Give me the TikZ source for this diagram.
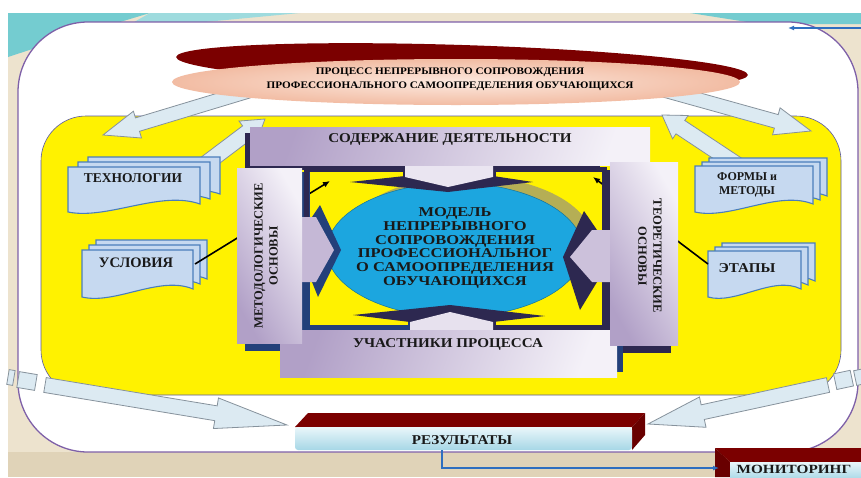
\documentclass[tikz,border=0pt]{standalone}
\usepackage{fontspec}
\setmainfont{Liberation Serif}
\newfontfamily\fa[FakeStretch=1.12]{Liberation Serif}
\newfontfamily\fb[FakeStretch=1.22]{Liberation Serif}
\usetikzlibrary{arrows.meta}
\definecolor{bgbeige}{HTML}{EDE3CE}
\definecolor{bgtan}{HTML}{E0D3B8}
\definecolor{bgteal}{HTML}{74CCD0}
\definecolor{boxborder}{HTML}{7E60A8}
\definecolor{docfill}{HTML}{C6D9F0}
\definecolor{docdraw}{HTML}{4A7EBB}
\definecolor{arrfill}{HTML}{DCEAF2}
\definecolor{arrdraw}{HTML}{86929C}
\definecolor{lavD}{HTML}{B1A0C7}
\definecolor{lavL}{HTML}{F4F1F8}
\definecolor{navy}{HTML}{2D2850}
\definecolor{bnavy}{HTML}{23407A}
\definecolor{ellblue}{HTML}{1CA6DF}
\definecolor{khaki}{HTML}{B5AE55}
\definecolor{dred}{HTML}{7B0000}
\definecolor{pinkc}{HTML}{FCE9DF}
\definecolor{pinke}{HTML}{F2BCA3}
\definecolor{cyanL}{HTML}{EAF6FA}
\definecolor{cyanD}{HTML}{A6D7E6}
\definecolor{linkblue}{HTML}{2E6FC0}
\tikzset{
  docst/.style={fill=docfill,draw=docdraw,line width=1.1pt},
  barrow/.style={fill=arrfill,draw=arrdraw,line width=0.8pt},
  barh/.style={left color=lavD,right color=lavL,shading angle=70},
  barv/.style={left color=lavD,right color=lavL,shading angle=120},
  frameline/.style={draw=navy,line width=5pt},
  lbl/.style={font=\bfseries\fontsize{13.5}{14}\selectfont,text=black!90,inner sep=0pt,align=center},
  blink/.style={draw=black,line width=1.6pt,-{Latex[length=7pt,width=6pt]}},
}
\newcommand\blockarr[7]{%
  \pgfmathsetmacro\bdx{#3-#1}\pgfmathsetmacro\bdy{#4-#2}%
  \pgfmathsetmacro\blen{veclen(\bdx,\bdy)}%
  \pgfmathsetmacro\bang{atan2(-\bdy,\bdx)}%
  \pgfmathsetmacro\bneck{\blen-#7}%
  \begin{scope}[shift={(#1,#2)},rotate=\bang]
    \draw[barrow] (0,-#5) -- (\bneck,-#5) -- (\bneck,-#6) -- (\blen,0) -- (\bneck,#6) -- (\bneck,#5) -- (0,#5) -- cycle;
  \end{scope}}
\newcommand\docsheet[4]{%
  \pgfmathsetmacro\dxa{#1}\pgfmathsetmacro\dya{#2}%
  \pgfmathsetmacro\dxb{#1+#3}\pgfmathsetmacro\dyb{#2+#4}%
  \pgfmathsetmacro\dxm{#1+0.3*#3}\pgfmathsetmacro\dxn{#1+0.7*#3}%
  \draw[docst] (\dxa,\dya) -- (\dxb,\dya) -- (\dxb,\dyb-8) .. controls (\dxn,\dyb-22) and (\dxm,\dyb+8) .. (\dxa,\dyb) -- cycle;}
\newcommand\docstack[6]{% x y w h dx dy
  \docsheet{#1+2*#5}{#2+2*#6}{#3}{#4}%
  \docsheet{#1+#5}{#2+#6}{#3}{#4}%
  \docsheet{#1}{#2}{#3}{#4}}
\begin{document}
\begin{tikzpicture}[x=1pt,y=-1pt]
\useasboundingbox (0,0) rectangle (861,477);
% background
\fill[white] (0,0) rectangle (861,477);
\fill[bgbeige] (8,13) rectangle (861,477);
\fill[bgteal] (8,13) -- (150,13) -- (60,40) -- (8,57) -- cycle;
\fill[bgteal!70!white] (150,13) -- (300,13) -- (120,30) -- cycle;
\fill[bgteal] (690,13) -- (861,13) -- (861,24) -- (760,24) -- cycle;
\fill[bgtan] (8,452) rectangle (861,477);
% white frame
\draw[boxborder,line width=1.3pt,fill=white,rounded corners=70] (18,22) rectangle (858,452);
\coordinate (tra) at (861,28);
\coordinate (trb) at (788,28);
\draw[linkblue,line width=1.3pt,-{Latex[length=6pt,width=5pt]}] (tra) -- (trb);
% yellow field
\draw[fill=yellow,draw=gray!70!blue,line width=0.6pt,rounded corners=45] (41,116) rectangle (841,395);
% block arrows from ellipse
\blockarr{272}{84}{103}{135}{7}{14}{36}
\blockarr{642}{84}{811}{131}{7}{14}{36}
% block arrows up to the centre
\blockarr{200}{168}{265}{119}{8}{14}{22}
\blockarr{742}{168}{662}{115}{8}{14}{22}
% top ellipse
\fill[dred,rotate around={-1.8:(462,66)}] (462,66) ellipse [x radius=286, y radius=21];
\path[inner color=pinkc,outer color=pinke] (456,82) ellipse [x radius=284, y radius=23];
\node[font=\fa\bfseries\fontsize{10}{14}\selectfont,align=center,inner sep=0pt] (proc) at (450,79) {ПРОЦЕСС НЕПРЕРЫВНОГО СОПРОВОЖДЕНИЯ\\ПРОФЕССИОНАЛЬНОГО САМООПРЕДЕЛЕНИЯ ОБУЧАЮЩИХСЯ};
% document stacks
\docstack{68}{167}{132}{45}{10}{-5}
\node[lbl] (tech) at (133,178) {ТЕХНОЛОГИИ};
\docstack{82}{250}{111}{47}{7}{-5}
\node[lbl,font=\bfseries\fontsize{14.5}{15}\selectfont] (usl) at (136,263) {УСЛОВИЯ};
\docstack{695}{166}{118}{46}{7}{-4}
\node[lbl,font=\bfseries\fontsize{12}{14}\selectfont] (form) at (747,185) {ФОРМЫ и\\МЕТОДЫ};
\docstack{708}{251}{93}{46}{7}{-4}
\node[lbl,font=\fa\bfseries\fontsize{13.5}{14}\selectfont] (etap) at (747,268) {ЭТАПЫ};
% black connectors (behind bars)
\coordinate (uslA) at (195,264);
\coordinate (uslB) at (330,181);
\coordinate (etA) at (708,264);
\coordinate (etB) at (593,177);
\draw[blink] (uslA) -- (uslB);
\draw[blink] (etA) -- (etB);
% shadows of bars
\fill[navy] (245,133) rectangle (600,170);
\fill[bnavy] (245,172) rectangle (310,351);
\fill[navy] (603,170) rectangle (671,353);
\fill[bnavy] (287,335) rectangle (623,372);
% frame lines
\draw[frameline] (306,217) -- (306,169) -- (405,169) -- (405,178);
\draw[frameline] (493,178) -- (493,169) -- (604,169) -- (604,230);
\draw[frameline,draw=bnavy] (306,282) -- (306,327) -- (410,327) -- (410,319);
\draw[frameline] (493,319) -- (493,327) -- (604,327) -- (604,282);
% central ellipse
\fill[khaki] (468,242) ellipse [x radius=125, y radius=66];
\draw[fill=ellblue,draw=ellblue!70!black,line width=0.5pt] (455,250) ellipse [x radius=128, y radius=67];
% pinches
\fill[navy] (350,182) -- (405,176) -- (493,176) -- (533,182) -- (448,192) -- cycle;
\fill[lavL!85!lavD] (405,160) -- (493,160) -- (493,177) -- (448,187) -- (405,177) -- cycle;
\fill[navy] (353,315) -- (450,305) -- (545,316) -- (493,322) -- (410,322) -- cycle;
\fill[lavL!80!lavD] (410,335) -- (410,322) -- (450,312) -- (493,322) -- (493,335) -- cycle;
\fill[bnavy] (320,205) -- (341,250) -- (318,297) -- (312,282) -- (312,217) -- cycle;
\fill[lavD!70!lavL] (300,217) -- (316,217) -- (334,250) -- (316,282) -- (300,282) -- cycle;
\fill[navy] (584,211) -- (597,230) -- (597,282) -- (580,310) -- (563,257) -- cycle;
\fill[lavD!60!lavL] (612,230) -- (592,230) -- (570,257) -- (592,282) -- (612,282) -- cycle;
\node[lbl,font=\fb\bfseries\fontsize{13.5}{13.7}\selectfont] (model) at (455,248) {МОДЕЛЬ\\НЕПРЕРЫВНОГО\\СОПРОВОЖДЕНИЯ\\ПРОФЕССИОНАЛЬНОГ\\О САМООПРЕДЕЛЕНИЯ\\ОБУЧАЮЩИХСЯ};
% bars
\path[barh] (280,330) rectangle (617,377);
\node[lbl,font=\fa\bfseries\fontsize{13.5}{14}\selectfont] (part) at (448,344) {УЧАСТНИКИ ПРОЦЕССА};
\path[barh] (250,127) rectangle (650,165);
\node[lbl,font=\fa\bfseries\fontsize{13.5}{14}\selectfont] (cont) at (450,139) {СОДЕРЖАНИЕ ДЕЯТЕЛЬНОСТИ};
\path[barv] (237,168) rectangle (302,343);
\node[lbl,rotate=90,font=\bfseries\fontsize{12.5}{15}\selectfont] (meth) at (266,256) {МЕТОДОЛОГИЧЕСКИЕ\\ОСНОВЫ};
\path[barv] (610,162) rectangle (678,345);
\node[lbl,rotate=-90,font=\bfseries\fontsize{12.5}{15}\selectfont] (theo) at (650,256) {ТЕОРЕТИЧЕСКИЕ\\ОСНОВЫ};
% bottom block arrows
\blockarr{45}{385}{287}{425}{7.5}{15.5}{72}
\blockarr{828}{385}{648}{424}{7.5}{15.5}{56}
\draw[barrow,rotate around={-9.4:(27,381)}] (18,373) rectangle (36,389);
\draw[barrow,rotate around={-9.4:(11,377)}] (8,370) rectangle (14,385);
\draw[barrow,rotate around={12:(843,380)}] (835,372) rectangle (852,388);
\draw[barrow,rotate around={12:(858,377)}] (855,370) rectangle (866,385);
% results box
\fill[dred] (295,427) -- (308,413) -- (645,413) -- (632,427) -- cycle;
\fill[dred!85!black] (632,427) -- (645,413) -- (645,435) -- (632,450) -- cycle;
\path[top color=cyanL,bottom color=cyanD,rounded corners=3] (295,427) rectangle (632,450);
\node[lbl,font=\fa\bfseries\fontsize{13.5}{14}\selectfont] (res) at (462,440) {РЕЗУЛЬТАТЫ};
% monitoring box
\fill[dred] (715,448) -- (730,462) -- (870,462) -- (870,448) -- cycle;
\fill[dred!85!black] (715,448) -- (730,462) -- (730,477) -- (715,477) -- cycle;
\path[top color=cyanL,bottom color=cyanD] (730,462) rectangle (870,480);
\node[lbl,font=\fb\bfseries\fontsize{12.5}{14}\selectfont] (mon) at (794,469.5) {МОНИТОРИНГ};
\coordinate (resout) at (442,450);
\coordinate (monin) at (719,468);
\draw[linkblue,line width=1.2pt,-{Latex[length=6pt,width=5pt]}] (resout) |- (monin);
\end{tikzpicture}
\end{document}
